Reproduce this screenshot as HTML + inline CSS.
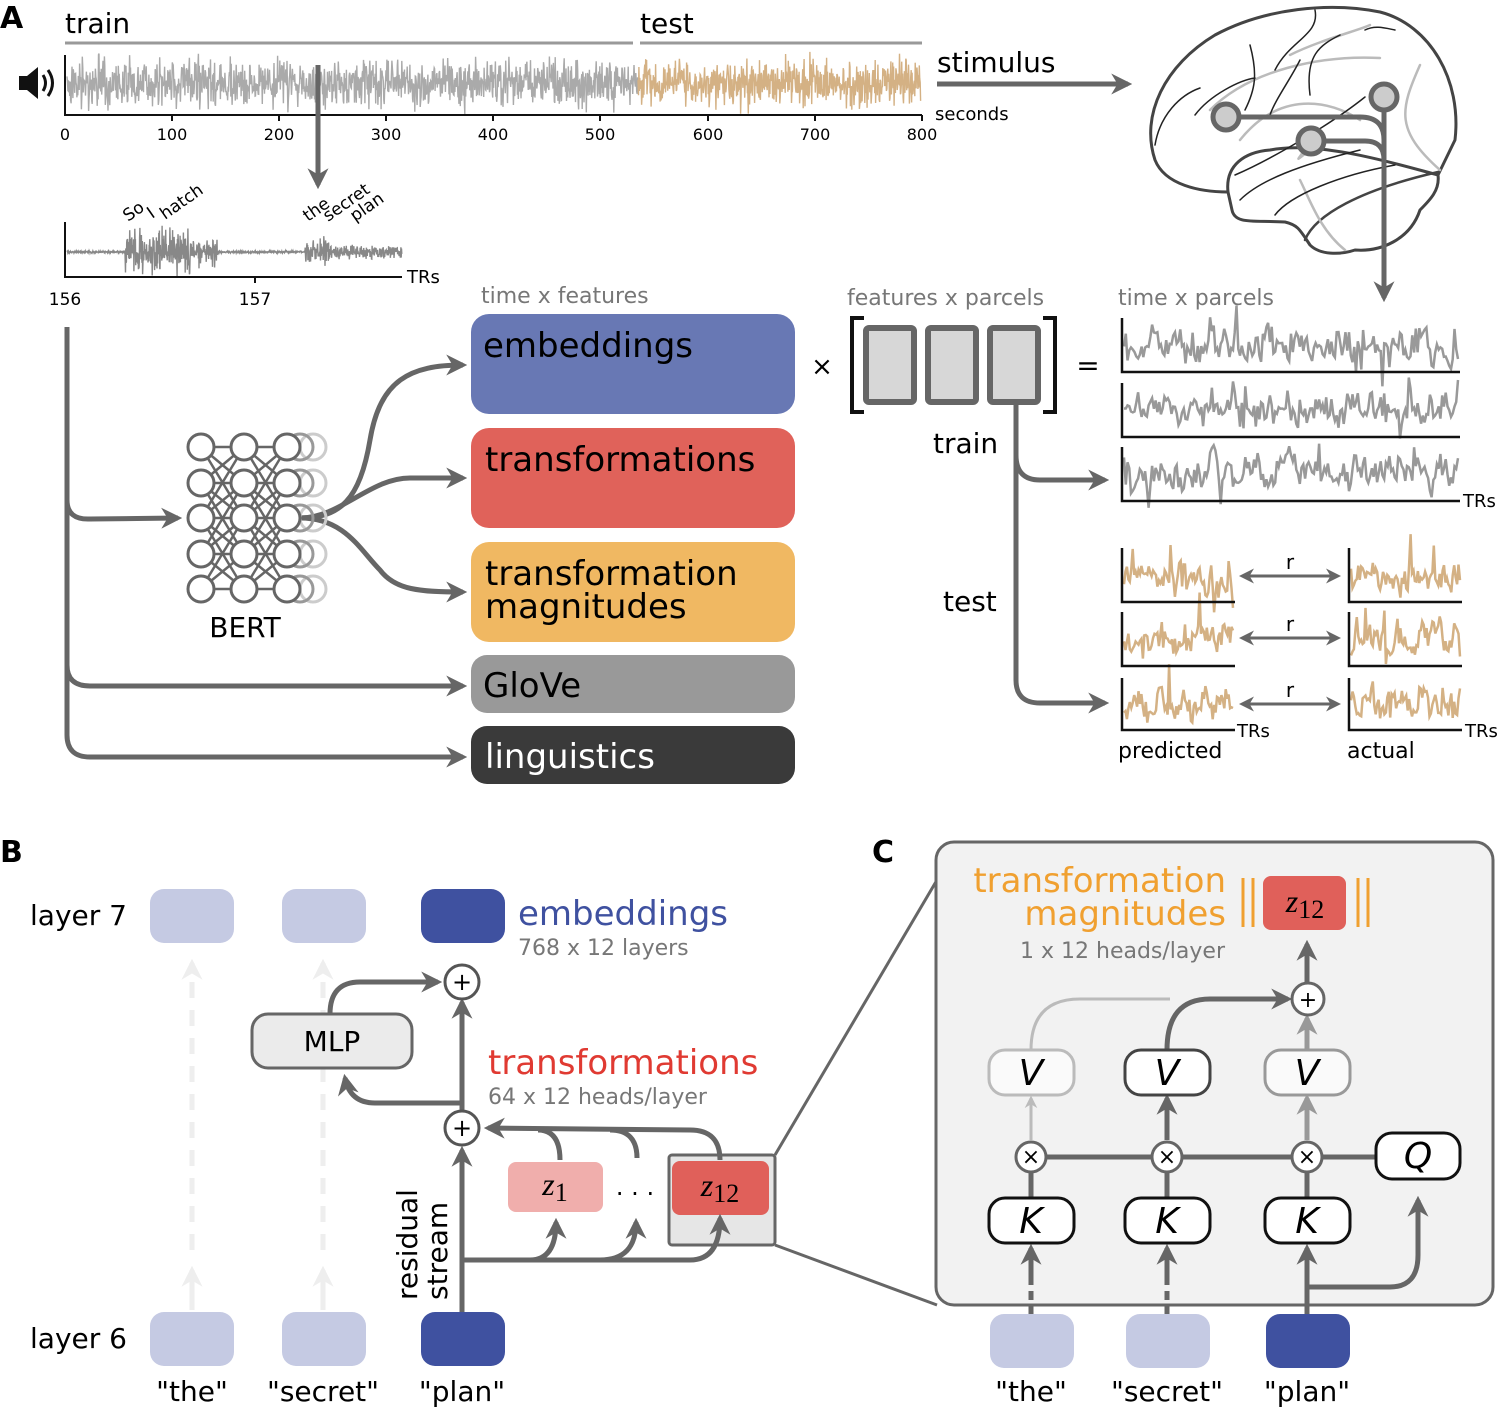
<!DOCTYPE html>
<html><head><meta charset="utf-8"><style>
html,body{margin:0;padding:0;background:#fff}
svg{display:block}
text{font-family:"DejaVu Sans","Liberation Sans",sans-serif}
.m{font-family:"Liberation Serif",serif;font-style:italic}
</style></head><body>
<svg id="s" width="1500" height="1410" viewBox="0 0 1500 1410" xmlns="http://www.w3.org/2000/svg">
<defs>
<marker id="ah" viewBox="0 0 10 10" refX="8" refY="5" markerWidth="4.2" markerHeight="4.2" orient="auto-start-reverse" markerUnits="strokeWidth"><path d="M0,0 L10,5 L0,10 L3,5z" fill="#666"/></marker>
<marker id="ahs" viewBox="0 0 10 10" refX="8" refY="5" markerWidth="5" markerHeight="5" orient="auto-start-reverse" markerUnits="strokeWidth"><path d="M0,0 L10,5 L0,10 L3,5z" fill="#666"/></marker>
<marker id="ahl" viewBox="0 0 10 10" refX="8" refY="5" markerWidth="4.2" markerHeight="4.2" orient="auto" markerUnits="strokeWidth"><path d="M0,0 L10,5 L0,10 L3,5z" fill="#eee"/></marker>
<marker id="ahg" viewBox="0 0 10 10" refX="8" refY="5" markerWidth="4.2" markerHeight="4.2" orient="auto" markerUnits="strokeWidth"><path d="M0,0 L10,5 L0,10 L3,5z" fill="#bbb"/></marker>
<marker id="ahm" viewBox="0 0 10 10" refX="8" refY="5" markerWidth="4.2" markerHeight="4.2" orient="auto" markerUnits="strokeWidth"><path d="M0,0 L10,5 L0,10 L3,5z" fill="#999"/></marker>
</defs>

<!-- ===== Panel A ===== -->
<text x="0" y="28" font-size="30" font-weight="bold">A</text>
<text x="65" y="33" font-size="28">train</text>
<line x1="65" y1="43" x2="633" y2="43" stroke="#999" stroke-width="3"/>
<text x="640" y="33" font-size="28">test</text>
<line x1="640" y1="43" x2="922" y2="43" stroke="#999" stroke-width="3"/>
<path d="M19,76 h8 l11,-9 v32 l-11,-9 h-8z" fill="#111"/>
<path d="M43,75 q5,8 0,16 M48,70 q9,13 0,26" fill="none" stroke="#111" stroke-width="3"/>
<g id="bigwave"></g>
<line x1="65" y1="55" x2="65" y2="116" stroke="#111" stroke-width="2"/>
<line x1="65" y1="115" x2="922" y2="115" stroke="#111" stroke-width="2"/>
<g font-size="16" text-anchor="middle">
<text x="65" y="140">0</text><text x="172" y="140">100</text><text x="279" y="140">200</text><text x="386" y="140">300</text><text x="493" y="140">400</text><text x="600" y="140">500</text><text x="708" y="140">600</text><text x="815" y="140">700</text><text x="922" y="140">800</text>
</g>
<g stroke="#111" stroke-width="2"><line x1="172" y1="115" x2="172" y2="121"/><line x1="279" y1="115" x2="279" y2="121"/><line x1="386" y1="115" x2="386" y2="121"/><line x1="493" y1="115" x2="493" y2="121"/><line x1="600" y1="115" x2="600" y2="121"/><line x1="708" y1="115" x2="708" y2="121"/><line x1="815" y1="115" x2="815" y2="121"/><line x1="922" y1="115" x2="922" y2="121"/></g>
<line x1="318" y1="65" x2="318" y2="185" stroke="#666" stroke-width="5" marker-end="url(#ah)"/>
<text x="937" y="72" font-size="28">stimulus</text>
<line x1="937" y1="84" x2="1128" y2="84" stroke="#666" stroke-width="5" marker-end="url(#ah)"/>
<text x="935" y="120" font-size="18">seconds</text>

<!-- brain -->
<g fill="none" stroke-linecap="round">
<path d="M1228,192 C1200,192 1165,185 1155,160 C1140,115 1165,65 1215,35 C1265,8 1330,2 1380,12 C1430,25 1462,80 1455,140 L1438,175" stroke="#444" stroke-width="3"/>
<path d="M1228,192 C1225,165 1245,152 1270,150 C1320,140 1400,165 1438,175 C1440,190 1430,200 1420,210 C1410,240 1380,252 1355,250 C1340,255 1320,255 1310,245 C1300,230 1298,225 1285,222 C1255,220 1235,225 1232,210z" stroke="#444" stroke-width="3"/>
<path d="M1305,240 C1315,215 1360,190 1438,172" stroke="#444" stroke-width="2.5"/>
<g stroke="#bbb" stroke-width="2.5">
<path d="M1210,110 C1250,70 1320,55 1380,58 M1290,55 C1320,40 1360,30 1370,25 M1420,65 C1400,110 1395,130 1440,170 M1240,140 C1280,90 1330,100 1360,120 M1300,180 C1310,200 1320,230 1345,250 M1310,140 C1300,160 1290,165 1310,150"/>
</g>
<g stroke="#222" stroke-width="1.5">
<path d="M1155,145 C1160,115 1180,95 1200,88 M1195,115 C1210,95 1240,80 1255,78 M1250,45 C1258,75 1255,90 1245,110 M1300,60 C1290,80 1275,100 1270,115 M1315,10 C1320,35 1290,40 1275,70 M1340,35 C1320,45 1305,55 1310,95 M1365,30 C1375,25 1385,28 1395,30 M1240,200 C1260,180 1300,165 1360,150 M1275,215 C1290,195 1340,175 1395,165 M1235,175 C1270,160 1330,125 1365,97"/>
</g>
</g>
<g stroke="#666" stroke-width="5" fill="none">
<path d="M1226,117 H1360 Q1384,117 1384,140"/>
<path d="M1311,141 H1365 Q1384,141 1384,160"/>
<line x1="1384" y1="97" x2="1384" y2="298" marker-end="url(#ah)"/>
</g>
<g fill="#ccc" stroke="#666" stroke-width="5"><circle cx="1226" cy="117" r="13"/><circle cx="1311" cy="141" r="13"/><circle cx="1384" cy="97" r="13"/></g>

<!-- small wave -->
<g id="smallwave"></g>
<line x1="65" y1="222" x2="65" y2="278" stroke="#111" stroke-width="2"/>
<line x1="65" y1="277" x2="402" y2="277" stroke="#111" stroke-width="2"/>
<line x1="255" y1="277" x2="255" y2="283" stroke="#111" stroke-width="2"/>
<text x="407" y="283" font-size="18">TRs</text>
<text x="65" y="305" font-size="17" text-anchor="middle">156</text>
<text x="255" y="305" font-size="17" text-anchor="middle">157</text>
<g font-size="17">
<text transform="translate(128,222) rotate(-35)">So</text>
<text transform="translate(152,219) rotate(-35)">I</text>
<text transform="translate(165,220) rotate(-35)">hatch</text>
<text transform="translate(308,222) rotate(-35)">the</text>
<text transform="translate(328,222) rotate(-35)">secret</text>
<text transform="translate(355,222) rotate(-35)">plan</text>
</g>

<!-- left trunk -->
<g stroke="#666" stroke-width="5" fill="none">
<path d="M67,327 V500 Q67,520 90,519 L178,518" marker-end="url(#ah)"/>
<path d="M67,500 V665 Q67,686 90,686 L463,686" marker-end="url(#ah)"/>
<path d="M67,660 V735 Q67,757 90,757 L463,757" marker-end="url(#ah)"/>
<path d="M300,518 C340,518 360,500 370,440 C380,380 410,365 463,365" marker-end="url(#ah)"/>
<path d="M300,518 C340,518 370,478 410,478 L463,478" marker-end="url(#ah)"/>
<path d="M300,518 C345,518 360,550 380,570 C395,590 420,592 463,592" marker-end="url(#ah)"/>
</g>
<g id="bert"></g>
<text x="245" y="637" font-size="28" text-anchor="middle">BERT</text>

<text x="481" y="303" font-size="22" fill="#777">time x features</text>
<rect x="471" y="314" width="324" height="100" rx="18" fill="#6878b4"/>
<rect x="471" y="428" width="324" height="100" rx="18" fill="#e0625a"/>
<rect x="471" y="542" width="324" height="100" rx="18" fill="#f0b862"/>
<rect x="471" y="655" width="324" height="58" rx="16" fill="#999"/>
<rect x="471" y="726" width="324" height="58" rx="16" fill="#3a3a3a"/>
<g font-size="34">
<text x="483" y="357">embeddings</text>
<text x="485" y="471">transformations</text>
<text x="485" y="585">transformation</text>
<text x="485" y="618">magnitudes</text>
<text x="483" y="697">GloVe</text>
<text x="485" y="768" fill="#fff">linguistics</text>
</g>
<text x="822" y="375" font-size="26" text-anchor="middle">×</text>
<text x="847" y="305" font-size="22" fill="#777">features x parcels</text>
<path d="M864,318 H852 V412 H864 M1043,318 H1055 V412 H1043" fill="none" stroke="#111" stroke-width="4"/>
<g fill="#d7d7d7" stroke="#666" stroke-width="6"><rect x="866" y="328" width="48" height="74" rx="3"/><rect x="928" y="328" width="48" height="74" rx="3"/><rect x="990" y="328" width="48" height="74" rx="3"/></g>
<text x="1088" y="375" font-size="28" text-anchor="middle">=</text>
<text x="1118" y="305" font-size="22" fill="#777">time x parcels</text>
<g stroke="#666" stroke-width="5" fill="none">
<path d="M1016,403 V455 Q1016,480 1040,480 L1105,480" marker-end="url(#ah)"/>
<path d="M1016,450 V680 Q1016,703 1040,703 L1105,703" marker-end="url(#ah)"/>
</g>
<text x="933" y="453" font-size="28">train</text>
<text x="943" y="611" font-size="28">test</text>
<g id="brainwaves"></g>
<g stroke="#111" stroke-width="2.5" fill="none">
<path d="M1122,318 V372 H1460 M1122,383 V437 H1460 M1122,447 V501 H1460"/>
<path d="M1122,548 V602 H1235 M1122,612 V666 H1235 M1122,678 V730 H1235"/>
<path d="M1349,548 V602 H1462 M1349,612 V666 H1462 M1349,678 V730 H1462"/>
</g>
<text x="1463" y="507" font-size="18">TRs</text>
<text x="1237" y="737" font-size="18">TRs</text>
<text x="1465" y="737" font-size="18">TRs</text>
<g stroke="#666" stroke-width="3"><line x1="1242" y1="576" x2="1338" y2="576" marker-start="url(#ahs)" marker-end="url(#ahs)"/><line x1="1242" y1="638" x2="1338" y2="638" marker-start="url(#ahs)" marker-end="url(#ahs)"/><line x1="1242" y1="704" x2="1338" y2="704" marker-start="url(#ahs)" marker-end="url(#ahs)"/></g>
<g font-size="20" text-anchor="middle"><text x="1290" y="569">r</text><text x="1290" y="631">r</text><text x="1290" y="697">r</text></g>
<text x="1118" y="758" font-size="22">predicted</text>
<text x="1347" y="758" font-size="22">actual</text>

<!-- ===== Panel B ===== -->
<text x="0" y="862" font-size="30" font-weight="bold">B</text>
<text x="30" y="925" font-size="28">layer 7</text>
<text x="30" y="1348" font-size="28">layer 6</text>
<g fill="#c5cae3"><rect x="150" y="889" width="84" height="54" rx="14"/><rect x="282" y="889" width="84" height="54" rx="14"/><rect x="150" y="1312" width="84" height="54" rx="14"/><rect x="282" y="1312" width="84" height="54" rx="14"/></g>
<g fill="#3f51a0"><rect x="421" y="889" width="84" height="54" rx="14"/><rect x="421" y="1312" width="84" height="54" rx="14"/></g>
<g font-size="28" text-anchor="middle"><text x="192" y="1401">"the"</text><text x="323" y="1401">"secret"</text><text x="462" y="1401">"plan"</text></g>
<g stroke="#eee" stroke-width="5" fill="none">
<line x1="192" y1="1310" x2="192" y2="1270" marker-end="url(#ahl)"/>
<line x1="192" y1="1250" x2="192" y2="963" stroke-dasharray="16,12" marker-end="url(#ahl)"/>
<line x1="323" y1="1310" x2="323" y2="1270" marker-end="url(#ahl)"/>
<line x1="323" y1="1250" x2="323" y2="963" stroke-dasharray="16,12" marker-end="url(#ahl)"/>
</g>
<rect x="669" y="1155" width="106" height="90" rx="3" fill="#e6e6e6" stroke="#666" stroke-width="3"/>
<rect x="672" y="1161" width="97" height="54" rx="8" fill="#e0605a"/>
<text x="720" y="1196" font-size="32" class="m" text-anchor="middle">z<tspan font-style="normal" font-size="26" dy="6">12</tspan></text>
<g stroke="#666" stroke-width="5" fill="none">
<line x1="462" y1="1312" x2="462" y2="1150" marker-end="url(#ah)"/>
<line x1="462" y1="1112" x2="462" y2="1002" marker-end="url(#ah)"/>
<path d="M462,1103 H375 Q350,1103 345,1078" marker-end="url(#ah)"/>
<path d="M330,1014 Q330,982 360,982 L438,982" marker-end="url(#ah)"/>
<path d="M462,1260 H690 Q720,1260 720,1218" marker-end="url(#ah)"/>
<path d="M530,1260 Q556,1260 556,1222" marker-end="url(#ah)"/>
<path d="M600,1260 Q636,1260 636,1222" marker-end="url(#ah)"/>
<path d="M720,1160 Q720,1130 690,1130 L488,1128" marker-end="url(#ah)"/>
<path d="M538,1130 Q560,1130 560,1160"/>
<path d="M610,1130 Q637,1130 637,1158"/>
</g>
<g fill="#fff" stroke="#555" stroke-width="3"><circle cx="462" cy="982" r="17"/><circle cx="462" cy="1128" r="17"/></g>
<g font-size="24" text-anchor="middle"><text x="462" y="990">+</text><text x="462" y="1136">+</text></g>
<rect x="252" y="1014" width="160" height="54" rx="16" fill="#ebebeb" stroke="#666" stroke-width="3"/>
<text x="332" y="1051" font-size="28" text-anchor="middle">MLP</text>
<text transform="translate(417,1300) rotate(-90)" font-size="28">residual</text>
<text transform="translate(447,1300) rotate(-90)" font-size="28">stream</text>
<text x="518" y="925" font-size="34" fill="#3f51a0">embeddings</text>
<text x="518" y="955" font-size="22" fill="#777">768 x 12 layers</text>
<text x="488" y="1074" font-size="34" fill="#e03a32">transformations</text>
<text x="488" y="1104" font-size="22" fill="#777">64 x 12 heads/layer</text>
<rect x="508" y="1162" width="95" height="50" rx="8" fill="#f0aeac"/>
<text x="555" y="1195" font-size="32" class="m" text-anchor="middle">z<tspan font-style="normal" font-size="26" dy="6">1</tspan></text>
<text x="635" y="1195" font-size="24" text-anchor="middle">. . .</text>
<g stroke="#666" stroke-width="3"><line x1="775" y1="1155" x2="937" y2="880"/><line x1="775" y1="1245" x2="937" y2="1305"/></g>

<!-- ===== Panel C ===== -->
<text x="872" y="862" font-size="30" font-weight="bold">C</text>
<rect x="936" y="842" width="557" height="463" rx="18" fill="#f2f2f2" stroke="#666" stroke-width="3"/>
<text x="1226" y="892" font-size="34" fill="#f0a030" text-anchor="end">transformation</text>
<text x="1226" y="925" font-size="34" fill="#f0a030" text-anchor="end">magnitudes</text>
<text x="1225" y="958" font-size="22" fill="#777" text-anchor="end">1 x 12 heads/layer</text>
<g stroke="#f0a030" stroke-width="3"><line x1="1243" y1="878" x2="1243" y2="927"/><line x1="1253" y1="878" x2="1253" y2="927"/><line x1="1358" y1="878" x2="1358" y2="927"/><line x1="1368" y1="878" x2="1368" y2="927"/></g>
<rect x="1263" y="876" width="83" height="54" rx="8" fill="#e0605a"/>
<text x="1305" y="912" font-size="32" class="m" text-anchor="middle">z<tspan font-style="normal" font-size="26" dy="6">12</tspan></text>
<g fill="none">
<path d="M1031,1050 Q1031,999 1080,999 L1170,999" stroke="#bbb" stroke-width="3"/>
<path d="M1167,1050 Q1167,999 1210,999 L1288,999" stroke="#666" stroke-width="5" marker-end="url(#ah)"/>
<line x1="1307" y1="1050" x2="1307" y2="1018" stroke="#999" stroke-width="5" marker-end="url(#ahm)"/>
<line x1="1307" y1="982" x2="1307" y2="944" stroke="#666" stroke-width="5" marker-end="url(#ah)"/>
<line x1="1031" y1="1140" x2="1031" y2="1098" stroke="#bbb" stroke-width="3" marker-end="url(#ahg)"/>
<line x1="1167" y1="1140" x2="1167" y2="1098" stroke="#666" stroke-width="5" marker-end="url(#ah)"/>
<line x1="1307" y1="1140" x2="1307" y2="1098" stroke="#999" stroke-width="5" marker-end="url(#ahm)"/>
<line x1="1031" y1="1157" x2="1376" y2="1157" stroke="#666" stroke-width="5"/>
<line x1="1031" y1="1157" x2="1031" y2="1198" stroke="#666" stroke-width="5"/>
<line x1="1167" y1="1157" x2="1167" y2="1198" stroke="#666" stroke-width="5"/>
<line x1="1307" y1="1157" x2="1307" y2="1198" stroke="#666" stroke-width="5"/>
<line x1="1031" y1="1315" x2="1031" y2="1275" stroke="#666" stroke-width="5" stroke-dasharray="9,6"/>
<line x1="1031" y1="1280" x2="1031" y2="1248" stroke="#666" stroke-width="5" marker-end="url(#ah)"/>
<line x1="1167" y1="1315" x2="1167" y2="1275" stroke="#666" stroke-width="5" stroke-dasharray="9,6"/>
<line x1="1167" y1="1280" x2="1167" y2="1248" stroke="#666" stroke-width="5" marker-end="url(#ah)"/>
<line x1="1307" y1="1315" x2="1307" y2="1248" stroke="#666" stroke-width="5" marker-end="url(#ah)"/>
<path d="M1307,1287 H1390 Q1418,1287 1418,1255 L1418,1200" stroke="#666" stroke-width="5" marker-end="url(#ah)"/>
</g>
<g stroke-width="3">
<rect x="989" y="1050" width="85" height="45" rx="16" fill="#fafafa" stroke="#bbb"/>
<rect x="1125" y="1050" width="85" height="45" rx="16" fill="#fff" stroke="#444"/>
<rect x="1265" y="1050" width="85" height="45" rx="16" fill="#fafafa" stroke="#999"/>
<rect x="989" y="1198" width="85" height="45" rx="16" fill="#fff" stroke="#111"/>
<rect x="1125" y="1198" width="85" height="45" rx="16" fill="#fff" stroke="#111"/>
<rect x="1265" y="1198" width="85" height="45" rx="16" fill="#fff" stroke="#111"/>
<rect x="1376" y="1133" width="84" height="46" rx="16" fill="#fff" stroke="#111"/>
</g>
<g fill="#fff" stroke="#666" stroke-width="3"><circle cx="1308" cy="999" r="16"/><circle cx="1031" cy="1157" r="15"/><circle cx="1167" cy="1157" r="15"/><circle cx="1307" cy="1157" r="15"/></g>
<g font-size="22" text-anchor="middle"><text x="1308" y="1007">+</text><text x="1031" y="1164">×</text><text x="1167" y="1164">×</text><text x="1307" y="1164">×</text></g>
<g class="m" font-size="36" text-anchor="middle">
<text x="1031" y="1085">V</text><text x="1167" y="1085">V</text><text x="1307" y="1085">V</text>
<text x="1031" y="1233">K</text><text x="1167" y="1233">K</text><text x="1307" y="1233">K</text>
<text x="1418" y="1168">Q</text>
</g>
<g fill="#c5cae3"><rect x="990" y="1314" width="84" height="54" rx="14"/><rect x="1126" y="1314" width="84" height="54" rx="14"/></g>
<rect x="1266" y="1314" width="84" height="54" rx="14" fill="#3f51a0"/>
<g font-size="28" text-anchor="middle"><text x="1031" y="1401">"the"</text><text x="1167" y="1401">"secret"</text><text x="1307" y="1401">"plan"</text></g>
</svg>
<script>
(function(){
var NS="http://www.w3.org/2000/svg";
var seed=7;function rnd(){seed=(seed*16807)%2147483647;return seed/2147483647;}
function g(){return (rnd()+rnd()+rnd()-1.5)/1.5;}
function add(par,tag,attrs){var e=document.createElementNS(NS,tag);for(var k in attrs)e.setAttribute(k,attrs[k]);document.getElementById(par).appendChild(e);return e;}
function wave(par,x0,x1,cy,amp,step,col,sw,envf){var d="";for(var x=x0;x<=x1;x+=step){var a=amp*(envf?envf(x):1);var y=cy+g()*a;d+=(d?"L":"M")+x.toFixed(1)+","+y.toFixed(1);}add(par,"path",{d:d,fill:"none",stroke:col,"stroke-width":sw});}
wave("bigwave",67,638,83,34,0.45,"#aaa",1.4);
wave("bigwave",638,921,83,34,0.45,"#d4b184",1.4);
function env(x){var e=0.05;
 if(x>125&&x<190)e=1.0; else if(x>190&&x<218)e=0.65;
 if(x>305&&x<330)e=Math.max(e,0.55); else if(x>330&&x<405)e=Math.max(e,0.3);
 return e;}
wave("smallwave",67,402,252,32,0.3,"#888",1.4,env);
function sm(par,x0,x1,cy,amp,col,n){var d="",v=0;for(var i=0;i<=n;i++){var x=x0+(x1-x0)*i/n;v=v*0.35+g()*1.1;var s=rnd()<0.06?2.2:1;var y=cy+v*amp*s;d+=(d?"L":"M")+x.toFixed(1)+","+y.toFixed(1);}add(par,"path",{d:d,fill:"none",stroke:col,"stroke-width":2.5});}
sm("brainwaves",1124,1458,345,24,"#999",190);
sm("brainwaves",1124,1458,410,24,"#999",190);
sm("brainwaves",1124,1458,474,24,"#999",190);
var rows=[576,640,704];
for(var r=0;r<3;r++){sm("brainwaves",1124,1233,rows[r],22,"#d4b184",75);sm("brainwaves",1351,1460,rows[r],22,"#d4b184",75);}
var cols=[201,244,287],ys=[447,483,518,554,589];
for(var c=0;c<2;c++)for(var i=0;i<5;i++)for(var j=0;j<5;j++)if(Math.abs(i-j)<=2)add("bert","line",{x1:cols[c],y1:ys[i],x2:cols[c+1],y2:ys[j],stroke:"#666","stroke-width":2.5});
for(var i=0;i<5;i++){add("bert","circle",{cx:313,cy:ys[i],r:13,fill:"none",stroke:"#ccc","stroke-width":3});add("bert","circle",{cx:300,cy:ys[i],r:13,fill:"none",stroke:"#999","stroke-width":3});}
for(var c=0;c<3;c++)for(var i=0;i<5;i++)add("bert","circle",{cx:cols[c],cy:ys[i],r:13,fill:"#fff",stroke:"#666","stroke-width":3});
})();
</script>
</body></html>
